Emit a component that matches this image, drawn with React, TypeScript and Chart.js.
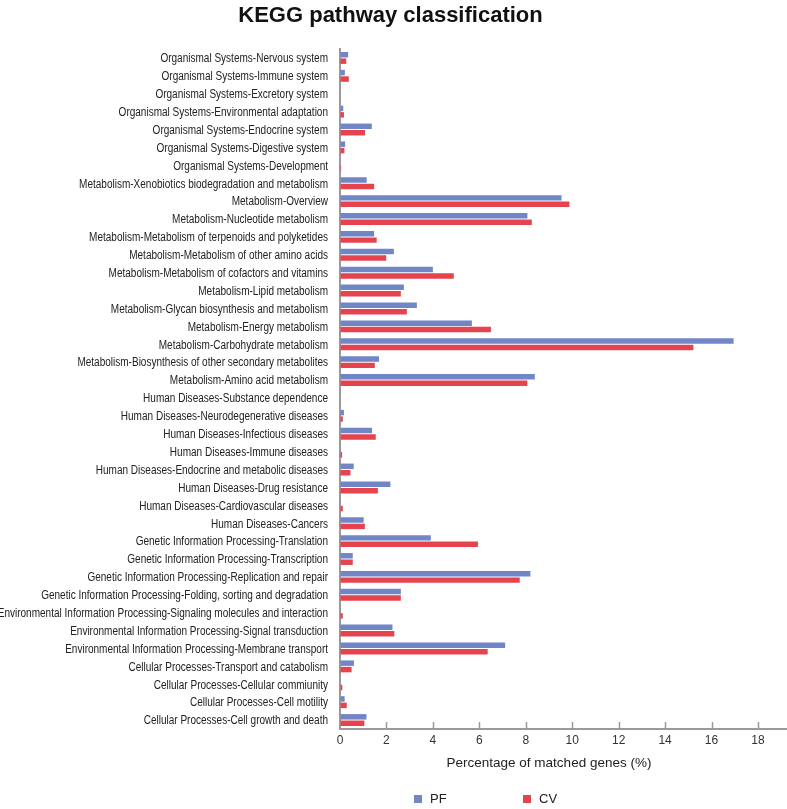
import React, { useEffect, useRef } from 'react';
import { Chart, registerables } from 'chart.js';

Chart.register(...registerables);

const chartTitle = 'KEGG pathway classification';
const axisTitle = 'Percentage of matched genes (%)';

const categories = [
  'Organismal Systems-Nervous system',
  'Organismal Systems-Immune system',
  'Organismal Systems-Excretory system',
  'Organismal Systems-Environmental adaptation',
  'Organismal Systems-Endocrine system',
  'Organismal Systems-Digestive system',
  'Organismal Systems-Development',
  'Metabolism-Xenobiotics biodegradation and metabolism',
  'Metabolism-Overview',
  'Metabolism-Nucleotide metabolism',
  'Metabolism-Metabolism of terpenoids and polyketides',
  'Metabolism-Metabolism of other amino acids',
  'Metabolism-Metabolism of cofactors and vitamins',
  'Metabolism-Lipid metabolism',
  'Metabolism-Glycan biosynthesis and metabolism',
  'Metabolism-Energy metabolism',
  'Metabolism-Carbohydrate metabolism',
  'Metabolism-Biosynthesis of other secondary metabolites',
  'Metabolism-Amino acid metabolism',
  'Human Diseases-Substance dependence',
  'Human Diseases-Neurodegenerative diseases',
  'Human Diseases-Infectious diseases',
  'Human Diseases-Immune diseases',
  'Human Diseases-Endocrine and metabolic diseases',
  'Human Diseases-Drug resistance',
  'Human Diseases-Cardiovascular diseases',
  'Human Diseases-Cancers',
  'Genetic Information Processing-Translation',
  'Genetic Information Processing-Transcription',
  'Genetic Information Processing-Replication and repair',
  'Genetic Information Processing-Folding, sorting and degradation',
  'Environmental Information Processing-Signaling molecules and interaction',
  'Environmental Information Processing-Signal transduction',
  'Environmental Information Processing-Membrane transport',
  'Cellular Processes-Transport and catabolism',
  'Cellular Processes-Cellular commiunity',
  'Cellular Processes-Cell motility',
  'Cellular Processes-Cell growth and death',
];

const pfValues = [
  0.35, 0.21, 0.0, 0.14, 1.37, 0.22, 0.0, 1.15,
  9.54, 8.07, 1.47, 2.32, 4.0, 2.75, 3.31, 5.68, 16.95, 1.68, 8.39,
  0.0, 0.17, 1.38, 0.03, 0.59, 2.17, 0.03, 1.02,
  3.91, 0.55, 8.2, 2.62,
  0.03, 2.26, 7.11,
  0.6, 0.0, 0.2, 1.14,
];

const cvValues = [
  0.27, 0.38, 0.0, 0.17, 1.08, 0.19, 0.05, 1.47,
  9.88, 8.26, 1.58, 1.99, 4.9, 2.62, 2.88, 6.5, 15.22, 1.5, 8.07,
  0.0, 0.12, 1.54, 0.09, 0.45, 1.63, 0.12, 1.07,
  5.94, 0.55, 7.74, 2.62,
  0.12, 2.34, 6.36,
  0.5, 0.1, 0.29, 1.05,
];

const xTicks = [0, 2, 4, 6, 8, 10, 12, 14, 16, 18];
const seriesNames = ['PF', 'CV'];
const seriesColors = ['#7086C6', '#E5444F'];

const SANS = '"Liberation Sans", Arial, Helvetica, sans-serif';

const decorPlugin = {
  id: 'decor',
  afterDraw(chart: any) {
    const { ctx, chartArea, scales } = chart;
    const xs = scales.x;
    const ys = scales.y;
    ctx.save();
    // condensed category labels
    ctx.fillStyle = '#222';
    ctx.font = `12px ${SANS}`;
    ctx.textAlign = 'right';
    ctx.textBaseline = 'middle';
    categories.forEach((label, i) => {
      const py = ys.getPixelForValue(i);
      ctx.save();
      ctx.translate(chartArea.left - 12, py + 1);
      ctx.scale(0.835, 1);
      ctx.fillText(label, 0, 0);
      ctx.restore();
    });
    // inward tick marks on x axis
    ctx.strokeStyle = '#9a9a9a';
    ctx.lineWidth = 1.5;
    xTicks.forEach((v) => {
      if (v === 0) return;
      const px = Math.round(xs.getPixelForValue(v)) + 0.5;
      ctx.beginPath();
      ctx.moveTo(px, chartArea.bottom);
      ctx.lineTo(px, chartArea.bottom - 7);
      ctx.stroke();
    });
    // title
    ctx.fillStyle = '#111';
    ctx.textAlign = 'center';
    ctx.font = `bold 22px ${SANS}`;
    ctx.fillText(chartTitle, chart.width / 2 - 3, 16);
    // axis title
    ctx.fillStyle = '#222';
    ctx.font = `13.5px ${SANS}`;
    ctx.fillText(axisTitle, xs.getPixelForValue(9), chartArea.bottom + 34);
    // legend
    const ly = chartArea.bottom + 70;
    const lx = [chartArea.left + 74, chartArea.left + 183];
    ctx.font = `13px ${SANS}`;
    ctx.textAlign = 'left';
    seriesNames.forEach((name, i) => {
      ctx.fillStyle = seriesColors[i];
      ctx.fillRect(lx[i], ly - 4, 8, 8);
      ctx.fillStyle = '#222';
      ctx.fillText(name, lx[i] + 16, ly);
    });
    ctx.restore();
  },
};

export default function App() {
  const ref = useRef<HTMLCanvasElement>(null);

  useEffect(() => {
    if (!ref.current) return;
    const chart = new Chart(ref.current, {
      type: 'bar',
      data: {
        labels: categories,
        datasets: [
          {
            label: seriesNames[0],
            data: pfValues,
            backgroundColor: seriesColors[0],
            categoryPercentage: 0.72,
            barPercentage: 0.85,
          },
          {
            label: seriesNames[1],
            data: cvValues,
            backgroundColor: seriesColors[1],
            categoryPercentage: 0.72,
            barPercentage: 0.85,
          },
        ],
      },
      options: {
        indexAxis: 'y',
        responsive: false,
        animation: false,
        layout: { padding: { top: 49, left: 0, right: 0, bottom: 0 } },
        plugins: {
          legend: { display: false },
          title: { display: false },
          tooltip: { enabled: false },
        },
        scales: {
          x: {
            min: 0,
            max: 19.25,
            afterBuildTicks: (s: any) => {
              s.ticks = xTicks.map((v) => ({ value: v }));
            },
            afterFit: (s: any) => {
              s.height = 80;
            },
            grid: { drawOnChartArea: false, drawTicks: false },
            border: { display: true, color: '#9a9a9a', width: 2 },
            ticks: {
              color: '#333',
              font: { family: SANS, size: 12 },
              padding: 4,
              maxRotation: 0,
              autoSkip: false,
            },
          },
          y: {
            afterFit: (s: any) => {
              s.width = 340;
            },
            grid: { drawOnChartArea: false, drawTicks: false },
            border: { display: true, color: '#9a9a9a', width: 2 },
            ticks: { display: false, autoSkip: false },
          },
        },
      },
      plugins: [decorPlugin],
    } as any);
    return () => chart.destroy();
  }, []);

  return (
    <div style={{ position: 'absolute', left: 0, top: 0, width: 787, height: 809, background: '#fff' }}>
      <canvas ref={ref} width={787} height={809} />
    </div>
  );
}
